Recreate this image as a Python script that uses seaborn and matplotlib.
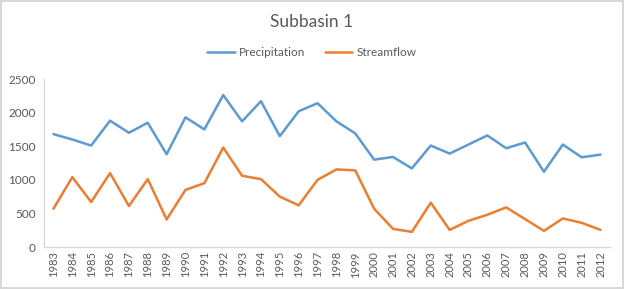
import pandas as pd
import seaborn as sns
import matplotlib.pyplot as plt

# Data
years = list(range(1983, 2013))
precipitation = [1680, 1600, 1510, 1880, 1700, 1850, 1380, 1930, 1750, 2260,
                 1870, 2170, 1650, 2020, 2140, 1870, 1690, 1300, 1340, 1170,
                 1510, 1390, 1525, 1660, 1470, 1555, 1120, 1525, 1335, 1375]
streamflow = [570, 1040, 670, 1100, 610, 1010, 410, 850, 950, 1480,
              1060, 1010, 750, 620, 1000, 1155, 1140, 570, 270, 225,
              660, 255, 390, 480, 590, 415, 240, 425, 360, 255]

df = pd.DataFrame({
    'Year': years * 2,
    'Value': precipitation + streamflow,
    'Series': ['Precipitation'] * len(years) + ['Streamflow'] * len(years),
})

sns.set_style('white')
plt.rcParams['font.family'] = ['Lato', 'DejaVu Sans']

fig = plt.figure(figsize=(6.24, 2.89), dpi=100, edgecolor='#d9d9d9', linewidth=1.5)
ax = fig.add_axes([0.0705, 0.1453, 0.907, 0.5813])

sns.lineplot(data=df, x='Year', y='Value', hue='Series',
             palette={'Precipitation': '#5B9BD5', 'Streamflow': '#ED7D31'},
             linewidth=1.8, ax=ax)

ax.set_xlim(1982.5, 2012.5)
ax.set_ylim(0, 2500)
ax.set_xticks(years)
ax.set_xticklabels([str(y) for y in years], rotation=90, fontsize=8, color='#595959')
ax.set_yticks(range(0, 2501, 500))
ax.tick_params(axis='y', labelsize=8.5, labelcolor='#595959', length=0, pad=6)
ax.tick_params(axis='x', length=0, pad=3)
ax.set_xlabel('')
ax.set_ylabel('')

for side in ['top', 'right']:
    ax.spines[side].set_visible(False)
for side in ['left', 'bottom']:
    ax.spines[side].set_color('#d9d9d9')
    ax.spines[side].set_linewidth(1)

fig.text(0.5, 0.925, 'Subbasin 1', ha='center', va='center', fontsize=12.5, color='#595959')
ax.legend(loc='center', bbox_to_anchor=(0.5, 0.817), bbox_transform=fig.transFigure,
          ncol=2, frameon=False, fontsize=8.5, handlelength=2.3, handletextpad=0.4,
          columnspacing=1.6, labelcolor='#595959')

fig.savefig('out.png', dpi=100)
